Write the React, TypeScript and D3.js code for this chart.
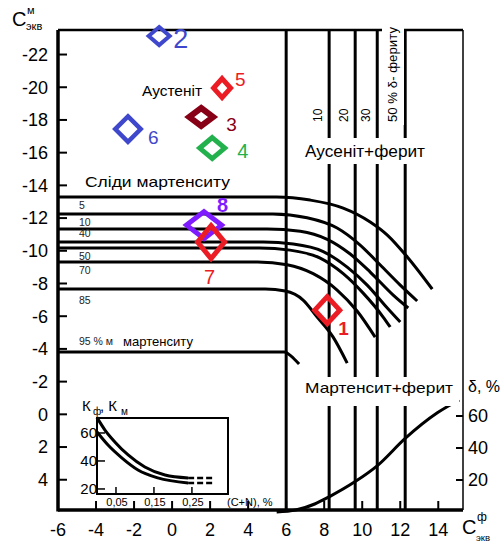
import React from 'react';
import * as d3 from 'd3';

// main axes
const xTicks = [-6, -4, -2, 0, 2, 4, 6, 8, 10, 12, 14];
const yTicks = [-22, -20, -18, -16, -14, -12, -10, -8, -6, -4, -2, 0, 2, 4];
const deltaTicks = [20, 40, 60];

// delta-ferrite vertical lines
const ferriteLevels = ['10', '20', '30'];
const ferriteX = [8.26, 9.63, 10.79];
const ferrite50X = 12.26;
const boundaryX = 6;

// martensite curves (C_f, C_m)
const martCurves: [number, number][][] = [
  [[-6, -13.29], [5.5, -13.29], [7.26, -13.1], [9.0, -12.61], [10.42, -11.76], [11.32, -10.96], [12.37, -9.62], [13.68, -7.66]],
  [[-6, -12.25], [5.3, -12.25], [7.1, -12.02], [8.68, -11.39], [9.89, -10.35], [10.95, -9.13], [12.0, -7.9], [12.89, -6.93]],
  [[-6, -11.33], [5.0, -11.33], [6.74, -11.2], [8.16, -10.7], [9.37, -9.8], [10.42, -8.7], [11.63, -7.29], [12.42, -6.5]],
  [[-6, -10.53], [4.8, -10.53], [6.37, -10.41], [7.95, -9.95], [9.21, -9.0], [10.26, -7.9], [11.32, -6.5], [12.0, -5.64]],
  [[-6, -10.17], [4.6, -10.17], [6.2, -10.04], [7.79, -9.55], [9.0, -8.6], [10.05, -7.41], [11.1, -5.95], [11.47, -5.34]],
  [[-6, -9.31], [4.5, -9.31], [6.05, -9.15], [7.42, -8.6], [8.68, -7.6], [9.74, -6.3], [10.68, -4.72]],
  [[-6, -7.66], [4.9, -7.66], [5.95, -7.54], [6.89, -6.99], [7.63, -5.95], [8.47, -4.72], [9.21, -3.13]],
  [[-6, -3.81], [5.9, -3.81], [6.26, -3.56], [6.68, -3.07]],
];
const martLabels = ['5', '10', '40', '50', '70', '85', '95 % м'];
const martLabelY = [-12.55, -11.51, -10.84, -9.43, -8.58, -6.74, -4.23];

// delta ferrite curve (C_f, delta %)
const deltaCurve: [number, number][] = [
  [5.5, 0], [6.5, 1.2], [7.5, 5], [8.26, 9.5], [9.63, 19], [10.8, 29], [12.26, 46], [13.95, 62], [15.1, 70],
];

// points
const markerIds = ['1', '2', '3', '4', '5', '6', '7', '8'];
const markerX = [8.16, -0.68, 1.53, 2.11, 2.63, -2.32, 2.05, 1.68];
const markerY = [-6.37, -23.13, -18.18, -16.28, -19.95, -17.44, -10.53, -11.57];

// inset: K_f, K_m vs (C+N)
const insetUpper: [number, number][] = [[0, 71], [0.021, 62.1], [0.047, 53.6], [0.082, 44.3], [0.126, 35.7], [0.179, 30], [0.24, 27.9]];
const insetLower: [number, number][] = [[0, 60.7], [0.029, 51.4], [0.066, 42.1], [0.108, 33.6], [0.16, 27.9], [0.24, 24.3]];
const insetXTicks = [0.05, 0.15, 0.25];
const insetXLabels = ['0,05', '0,15', '0,25'];
const insetYTicks = [20, 40, 60];

const markerStyle: Record<string, { c: string; hw: number; hh: number; sw: number; dx: number; dy: number; fs: number; fw?: string }> = {
  '1': { c: '#ec1c24', hw: 15, hh: 16, sw: 5, dx: 11, dy: 25, fs: 19, fw: 'bold' },
  '2': { c: '#3f48cc', hw: 12.5, hh: 11, sw: 4, dx: 14, dy: 12, fs: 27 },
  '3': { c: '#880015', hw: 15, hh: 12, sw: 6, dx: 25, dy: 14, fs: 19 },
  '4': { c: '#22b14c', hw: 15, hh: 13, sw: 5, dx: 25, dy: 10, fs: 20 },
  '5': { c: '#ec1c24', hw: 11, hh: 12, sw: 5, dx: 13, dy: -2, fs: 19 },
  '6': { c: '#3f48cc', hw: 15, hh: 15, sw: 4.5, dx: 20, dy: 15, fs: 19 },
  '7': { c: '#ec1c24', hw: 16, hh: 19, sw: 5, dx: -7, dy: 42, fs: 20 },
  '8': { c: '#7f1cff', hw: 20, hh: 16, sw: 5, dx: 13, dy: -13, fs: 20, fw: 'bold' },
};

const FONT = 'Liberation Sans, Arial, sans-serif';

export default function App() {
  const left = 58, right = 463, top = 30, bottom = 510;
  const x = d3.scaleLinear().domain([-6, 15.3]).range([left, right]);
  const y = d3.scaleLinear().domain([-23.5, 5.85]).range([top, bottom]);
  const yd = d3.scaleLinear().domain([0, 80]).range([512, 384]);

  const ix = d3.scaleLinear().domain([0, 0.345]).range([97, 228]);
  const iy = d3.scaleLinear().domain([16.4, 70.7]).range([494, 418]);

  const line = d3.line<[number, number]>().x(d => x(d[0])).y(d => y(d[1])).curve(d3.curveMonotoneX);
  const dLine = d3.line<[number, number]>().x(d => x(d[0])).y(d => yd(d[1])).curve(d3.curveMonotoneX);
  const iLine = d3.line<[number, number]>().x(d => ix(d[0])).y(d => iy(d[1])).curve(d3.curveMonotoneX);

  const diamond = (cx: number, cy: number, hw: number, hh: number) =>
    `M${cx},${cy - hh}L${cx + hw},${cy}L${cx},${cy + hh}L${cx - hw},${cy}Z`;

  const order = [1, 2, 0, 4, 3, 5, 7, 6];

  return (
    <svg width={501} height={542} style={{ position: 'absolute', left: 0, top: 0 }} fontFamily={FONT}>
      <rect width={501} height={542} fill="#fff" />

      {/* vertical ferrite lines */}
      <line x1={x(boundaryX)} x2={x(boundaryX)} y1={top} y2={bottom} stroke="#000" strokeWidth={3} />
      {[...ferriteX, ferrite50X].map((v, i) => (
        <line key={i} x1={x(v)} x2={x(v)} y1={top} y2={bottom} stroke="#000" strokeWidth={3} />
      ))}

      {/* martensite curves */}
      {martCurves.map((c, i) => (
        <path key={i} d={line(c) || ''} fill="none" stroke="#000" strokeWidth={3} />
      ))}

      {/* delta curve */}
      <path d={dLine(deltaCurve) || ''} fill="none" stroke="#000" strokeWidth={3} />

      {/* frame */}
      <line x1={left} x2={right} y1={top} y2={top} stroke="#000" strokeWidth={2.5} />
      <line x1={right} x2={right} y1={top} y2={bottom} stroke="#000" strokeWidth={1.5} />
      <line x1={left} x2={left} y1={top} y2={bottom + 1.5} stroke="#000" strokeWidth={3.5} />
      <line x1={left} x2={right} y1={bottom} y2={bottom} stroke="#000" strokeWidth={3.5} />

      {/* ticks */}
      {yTicks.map(t => (
        <g key={'y' + t}>
          <line x1={left} x2={left + 9} y1={y(t)} y2={y(t)} stroke="#000" strokeWidth={2} />
          <text x={48} y={y(t)} dy="0.35em" textAnchor="end" fontSize={18}>{t}</text>
        </g>
      ))}
      {xTicks.map(t => (
        <g key={'x' + t}>
          {t > -6 && <line x1={x(t)} x2={x(t)} y1={bottom} y2={bottom - 9} stroke="#000" strokeWidth={2} />}
          <text x={x(t)} y={536} textAnchor="middle" fontSize={18}>{t}</text>
        </g>
      ))}
      {deltaTicks.map(t => (
        <g key={'d' + t}>
          <line x1={right} x2={right - 7} y1={yd(t)} y2={yd(t)} stroke="#000" strokeWidth={2} />
          <text x={468} y={yd(t)} dy="0.35em" fontSize={18}>{t}</text>
        </g>
      ))}

      {/* label boxes */}
      <rect x={299} y={138} width={154} height={26} fill="#fff" />
      <text x={305} y={157} fontSize={16} textLength={120} lengthAdjust="spacingAndGlyphs">Аусеніт+ферит</text>
      <rect x={300} y={377} width={159} height={29} fill="#fff" />
      <text x={305} y={393} fontSize={15} textLength={148} lengthAdjust="spacingAndGlyphs">Мартенсит+ферит</text>
      <rect x={382} y={22} width={22} height={103} fill="#fff" />
      <text transform={`translate(${397},${122}) rotate(-90)`} fontSize={12} textLength={95} lengthAdjust="spacingAndGlyphs">50 % δ- фериту</text>
      {ferriteLevels.map((t, i) => (
        <text key={t} transform={`translate(${x(ferriteX[i]) - 7},${122}) rotate(-90)`} fontSize={12}>{t}</text>
      ))}

      <text x={142} y={96} fontSize={14} textLength={60} lengthAdjust="spacingAndGlyphs">Аустеніт</text>
      <text x={85} y={187} fontSize={15} textLength={145} lengthAdjust="spacingAndGlyphs">Сліди мартенситу</text>
      <text x={123} y={346} fontSize={13} textLength={70} lengthAdjust="spacingAndGlyphs">мартенситу</text>
      {martLabels.map((t, i) => (
        <text key={t} x={79} y={y(martLabelY[i])} fontSize={10.5} fill="#222">{t}</text>
      ))}
      <text x={468} y={392} fontSize={16}>δ, %</text>

      {/* axis titles */}
      <text x={12} y={26} fontSize={20}>С</text>
      <text x={27} y={14} fontSize={11}>м</text>
      <text x={26} y={30} fontSize={11}>экв</text>
      <text x={462} y={534} fontSize={20}>С</text>
      <text x={477} y={521} fontSize={12}>ф</text>
      <text x={476} y={541} fontSize={9.5}>экв</text>

      {/* inset */}
      <rect x={97} y={418} width={131} height={76} fill="#fff" stroke="#000" strokeWidth={2} />
      <path d={iLine(insetUpper) || ''} fill="none" stroke="#000" strokeWidth={3} />
      <path d={iLine(insetLower) || ''} fill="none" stroke="#000" strokeWidth={3} />
      <line x1={ix(0.24)} x2={ix(0.305)} y1={iy(27.9)} y2={iy(27.9)} stroke="#000" strokeWidth={2.5} strokeDasharray="6,3" />
      <line x1={ix(0.24)} x2={ix(0.305)} y1={iy(24.3)} y2={iy(24.3)} stroke="#000" strokeWidth={2.5} strokeDasharray="6,3" />
      {insetXTicks.map((t, i) => (
        <g key={'ix' + t}>
          <line x1={ix(t)} x2={ix(t)} y1={494} y2={487} stroke="#000" strokeWidth={1.5} />
          <text x={ix(t) + 1} y={506} textAnchor="middle" fontSize={11}>{insetXLabels[i]}</text>
        </g>
      ))}
      {insetYTicks.map(t => (
        <g key={'iy' + t}>
          <line x1={97} x2={105} y1={iy(t)} y2={iy(t)} stroke="#000" strokeWidth={1.5} />
          <text x={97} y={iy(t)} dy="0.35em" textAnchor="end" fontSize={15}>{t}</text>
        </g>
      ))}
      <text x={227} y={506} fontSize={11}>(C+N), %</text>
      <text x={82} y={411} fontSize={15}>К</text>
      <text x={93} y={415} fontSize={10}>ф</text>
      <text x={100} y={411} fontSize={15}>, К</text>
      <text x={121} y={415} fontSize={10}>м</text>

      {/* markers */}
      {order.map(i => {
        const id = markerIds[i];
        const s = markerStyle[id];
        const cx = x(markerX[i]);
        const cy = y(markerY[i]);
        return (
          <g key={id}>
            <path d={diamond(cx, cy, s.hw - s.sw / 2, s.hh - s.sw / 2)} fill="none" stroke={s.c} strokeWidth={s.sw} strokeLinejoin="miter" />
            <text x={cx + s.dx} y={cy + s.dy} fontSize={s.fs} fill={s.c} fontWeight={s.fw || 'normal'}>{id}</text>
          </g>
        );
      })}
    </svg>
  );
}
